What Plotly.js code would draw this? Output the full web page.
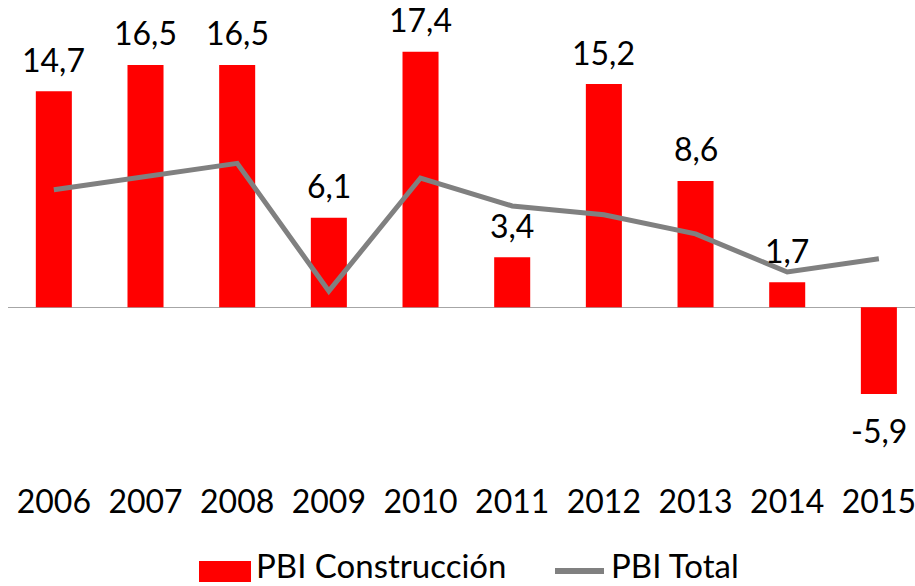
<!DOCTYPE html>
<html>
<head>
<meta charset="utf-8">
<script src="https://cdn.plot.ly/plotly-3.0.1.min.js"></script>
<style>
html,body{margin:0;padding:0;background:#fff;}
#chart{width:915px;height:586px;}
</style>
</head>
<body>
<div id="chart"></div>
<script>
var years = ['2006','2007','2008','2009','2010','2011','2012','2013','2014','2015'];
var pbiConstruccion = [14.7, 16.5, 16.5, 6.1, 17.4, 3.4, 15.2, 8.6, 1.7, -5.9];
var pbiTotal = [8.0, 8.9, 9.8, 1.1, 8.8, 6.9, 6.3, 5.0, 2.4, 3.3];
var seriesNames = ['PBI Construcción', 'PBI Total'];

var FONT = 'Lato, "Open Sans", sans-serif';
function fmt(v){ return v.toFixed(1).replace('.', ','); }

var L = 8, W = 915, H = 586, T = 0, B = 106;
var plotW = W - L, plotH = H - T - B;
function px2paperX(px){ return (px - L) / plotW; }
function px2paperY(py){ return 1 - (py - T) / plotH; }

var traces = [
  {type:'bar', x:years, y:pbiConstruccion, name:seriesNames[0],
   marker:{color:'#ff0000'}, hoverinfo:'none', showlegend:false},
  {type:'scatter', mode:'lines', x:years, y:pbiTotal, name:seriesNames[1],
   line:{color:'#808080', width:5}, hoverinfo:'none', showlegend:false}
];

var annotations = pbiConstruccion.map(function(v, i){
  return {x:i, y:v, xref:'x', yref:'y', text:fmt(v), showarrow:false,
    yanchor:'middle', yshift: v >= 0 ? 32 : -37, borderpad:0,
    font:{family:FONT, size:32, color:'#000'}};
});

// manual legend
annotations.push({xref:'paper', yref:'paper', x:px2paperX(255), y:px2paperY(586),
  xanchor:'left', yanchor:'bottom', text:seriesNames[0], showarrow:false, borderpad:0,
  font:{family:FONT, size:33, color:'#000'}});
annotations.push({xref:'paper', yref:'paper', x:px2paperX(610), y:px2paperY(586),
  xanchor:'left', yanchor:'bottom', text:seriesNames[1], showarrow:false, borderpad:0,
  font:{family:FONT, size:33, color:'#000'}});

var shapes = [
  {type:'rect', xref:'paper', yref:'paper', x0:px2paperX(199), x1:px2paperX(251),
   y0:px2paperY(582), y1:px2paperY(561), fillcolor:'#ff0000', line:{width:0}},
  {type:'line', xref:'paper', yref:'paper', x0:px2paperX(555), x1:px2paperX(604),
   y0:px2paperY(571), y1:px2paperY(571), line:{color:'#808080', width:6}}
];

var layout = {
  width:W, height:H,
  margin:{l:L, r:0, t:T, b:B, pad:0},
  paper_bgcolor:'#fff', plot_bgcolor:'#fff',
  bargap:0.607,
  showlegend:false,
  xaxis:{type:'category', range:[-0.5, 9.394], showgrid:false, showline:false,
    zeroline:false, ticks:'', tickfont:{family:FONT, size:32, color:'#000'},
    fixedrange:true},
  yaxis:{range:[-11.756, 20.919], showgrid:false, showticklabels:false,
    zeroline:true, zerolinecolor:'#a6a6a6', zerolinewidth:1.5, ticks:'',
    fixedrange:true},
  annotations:annotations,
  shapes:shapes,
  font:{family:FONT}
};

Plotly.newPlot('chart', traces, layout, {displayModeBar:false, staticPlot:true});
</script>
</body>
</html>
